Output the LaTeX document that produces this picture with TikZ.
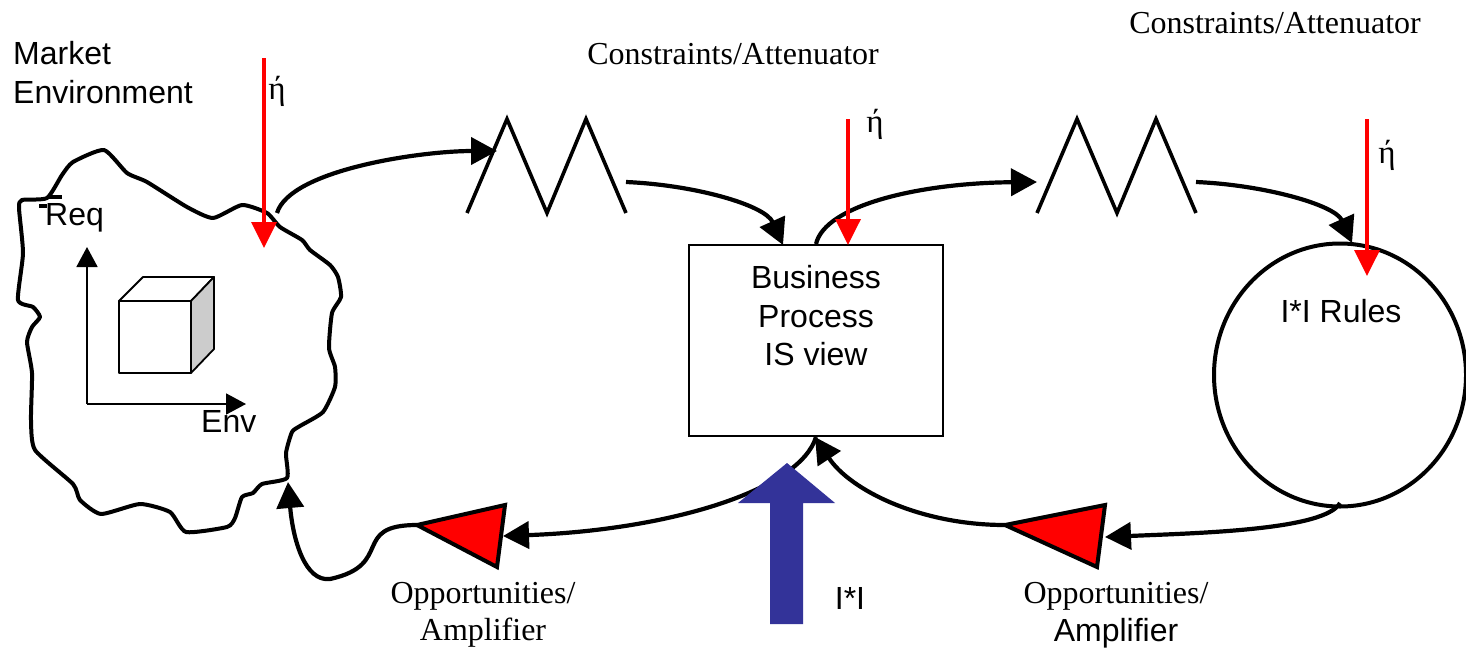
\documentclass[tikz,border=0pt]{standalone}
\usepackage{fontspec}
\setmainfont{Liberation Sans}
\newfontfamily\tms{Liberation Serif}
\usetikzlibrary{arrows.meta,shapes.geometric}
\definecolor{bluearrow}{HTML}{333399}
\tikzset{
  sanslabel/.style={font=\fontsize{32}{38}\selectfont,inner sep=0pt,align=center,text=black},
  seriflabel/.style={font=\tms\fontsize{32}{37}\selectfont,inner sep=0pt,align=center,text=black},
  etalabel/.style={font=\tms\fontsize{33}{36}\selectfont,inner sep=0pt},
  flow/.style={line width=4.2pt,-{Triangle[length=26pt,width=27pt]}},
  redarrow/.style={red,line width=3.6pt,-{Triangle[length=26pt,width=25pt]}},
  thinaxis/.style={line width=1.8pt,-{Triangle[length=20pt,width=21pt]}},
  zigzag/.style={line width=3.6pt,line join=miter},
  amp/.style={draw=black,fill=red,line width=4pt,line join=miter},
  cubeedge/.style={draw=black,line width=1.8pt,line join=round},
}
\begin{document}
\begin{tikzpicture}[x=1pt,y=-1pt]
\useasboundingbox (0,0) rectangle (1466,648);
% Market environment blob
\draw[line width=4pt,line join=round] plot[smooth cycle,tension=0.35] coordinates {
 (47,198) (22,200) (19,208) (23,253) (18,300) (33,307) (40,317) (32,327) (27,342) (32,373)
 (31,420) (35,450) (73,484) (80,500) (101,514) (140,504) (170,512) (186,532) (227,527)
 (235,518) (242,497) (253,493) (262,484) (287,478) (286,453) (292,432) (300,426) (323,412)
 (335,387) (335,367) (329,348) (332,313) (341,297) (338,277) (330,265) (310,250) (302,240)
 (280,227) (267,213) (242,205) (213,218) (187,207) (147,182) (127,173) (104,150) (73,162)
 (62,175)};
\coordinate (barA) at (47,197); \coordinate (barB) at (62,197);
\coordinate (barC) at (39,206); \coordinate (barD) at (47,206);
\draw[line width=3.4pt] (barA) -- (barB);
\draw[line width=3.4pt] (barC) -- (barD);
\node[sanslabel,anchor=base west] (req) at (45,225) {Req};
\node[sanslabel,anchor=base west] (env) at (201,432) {Env};
\node[sanslabel,anchor=base west,align=left] (market) at (13,64) {Market};
\node[sanslabel,anchor=base west,align=left] (environment) at (13,103) {Environment};
% axes
\coordinate (axo) at (87,404); \coordinate (axy) at (87,247); \coordinate (axx) at (246,404);
\draw[thinaxis] (axo) -- (axy);
\draw[thinaxis] (axo) -- (axx);
% cube
\coordinate (c1) at (119,301); \coordinate (c2) at (191,301); \coordinate (c3) at (191,373);
\coordinate (c4) at (119,373); \coordinate (c5) at (143,277); \coordinate (c6) at (214,277);
\coordinate (c7) at (214,349);
\fill[white] (c1) -- (c2) -- (c3) -- (c4) -- cycle;
\filldraw[cubeedge,fill=white] (c1) -- (c5) -- (c6) -- (c2) -- cycle;
\filldraw[cubeedge,fill=black!20] (c2) -- (c6) -- (c7) -- (c3) -- cycle;
\draw[cubeedge] (c1) -- (c2) -- (c3) -- (c4) -- cycle;
% business process box and rules circle
\node[draw=black,line width=2pt,minimum width=254pt,minimum height=191pt,inner sep=0pt] (bp) at (816,340.5) {};
\node[sanslabel,font=\fontsize{32}{38.5}\selectfont] (bptext) at (816,316) {Business\\Process\\IS view};
\node[draw=black,ellipse,line width=4pt,minimum width=252pt,minimum height=263pt,inner sep=0pt] (rules) at (1340,375) {};
\node[sanslabel] (rulestext) at (1341,311) {I*I Rules};
% attenuators
\coordinate (a1) at (467,213); \coordinate (a2) at (507,119); \coordinate (a3) at (547,213);
\coordinate (a4) at (586,119); \coordinate (a5) at (626,213);
\draw[zigzag] (a1) -- (a2) -- (a3) -- (a4) -- (a5);
\coordinate (b1) at (1037,213); \coordinate (b2) at (1077,119); \coordinate (b3) at (1117,213);
\coordinate (b4) at (1156,119); \coordinate (b5) at (1196,213);
\draw[zigzag] (b1) -- (b2) -- (b3) -- (b4) -- (b5);
% connector ends
\coordinate (blobout) at (277,213); \coordinate (a1in) at (497,151);
\coordinate (a1out) at (626,182); \coordinate (b1in) at (1037,182);
\coordinate (b1out) at (1196,182); \coordinate (rulesin) at (1352,243);
\coordinate (rulesout) at (1340,503);
\coordinate (t1a) at (417,525); \coordinate (t1b) at (505,505); \coordinate (t1c) at (497,567);
\coordinate (t2a) at (1005,525); \coordinate (t2b) at (1105,505); \coordinate (t2c) at (1097,567);
\coordinate (t1in) at (503,536); \coordinate (t2in) at (1105,537);
\coordinate (blobin) at (288,482);
\coordinate (bpbottom) at (815,437);
% flows
\draw[flow] (blobout) .. controls (290,170) and (420,151) .. (a1in);
\draw[flow] (a1out) .. controls (695,185) and (765,205) .. (783,245);
\draw[flow] (bp.north) .. controls (825,205) and (920,183) .. (b1in);
\draw[flow] (b1out) .. controls (1265,185) and (1335,205) .. (rulesin);
\draw[flow] (rulesout) .. controls (1325,530) and (1200,533) .. (t2in);
\draw[flow] (t2a) .. controls (920,525) and (850,490) .. (bpbottom);
\draw[flow] (bp.south) .. controls (800,490) and (670,530) .. (t1in);
\draw[flow] (t1a) .. controls (350,525) and (395,565) .. (330,579) .. controls (305,582) and (293,540) .. (blobin);
% amplifiers
\draw[amp] (t1a) -- (t1b) -- (t1c) -- cycle;
\draw[amp] (t2a) -- (t2b) -- (t2c) -- cycle;
% blue arrow
\coordinate (u1) at (787,463); \coordinate (u2) at (835,503); \coordinate (u3) at (803,503);
\coordinate (u4) at (803,624); \coordinate (u5) at (770,624); \coordinate (u6) at (770,503);
\coordinate (u7) at (738,503);
\fill[bluearrow] (u1) -- (u2) -- (u3) -- (u4) -- (u5) -- (u6) -- (u7) -- cycle;
\node[sanslabel] (ii) at (850,598) {I*I};
% red arrows
\coordinate (r1s) at (264,58); \coordinate (r1e) at (264,248);
\coordinate (r2s) at (848,119); \coordinate (r2e) at (848,245);
\coordinate (r3s) at (1367,119); \coordinate (r3e) at (1367,276);
\draw[redarrow] (r1s) -- (r1e);
\draw[redarrow] (r2s) -- (r2e);
\draw[redarrow] (r3s) -- (r3e);
\node[etalabel] (eta1) at (277,91) {ή};
\node[etalabel] (eta2) at (875,124) {ή};
\node[etalabel] (eta3) at (1387,155) {ή};
% serif labels
\node[seriflabel] (con1) at (733,54) {Constraints/Attenuator};
\node[seriflabel] (con2) at (1275,23) {Constraints/Attenuator};
\node[seriflabel,anchor=base] (op1) at (483,603) {Opportunities/};
\node[seriflabel,anchor=base] (am1) at (483,640) {Amplifier};
\node[seriflabel,anchor=base] (op2) at (1116,603) {Opportunities/};
\node[sanslabel,anchor=base] (am2) at (1116,641) {Amplifier};
\end{tikzpicture}
\end{document}
